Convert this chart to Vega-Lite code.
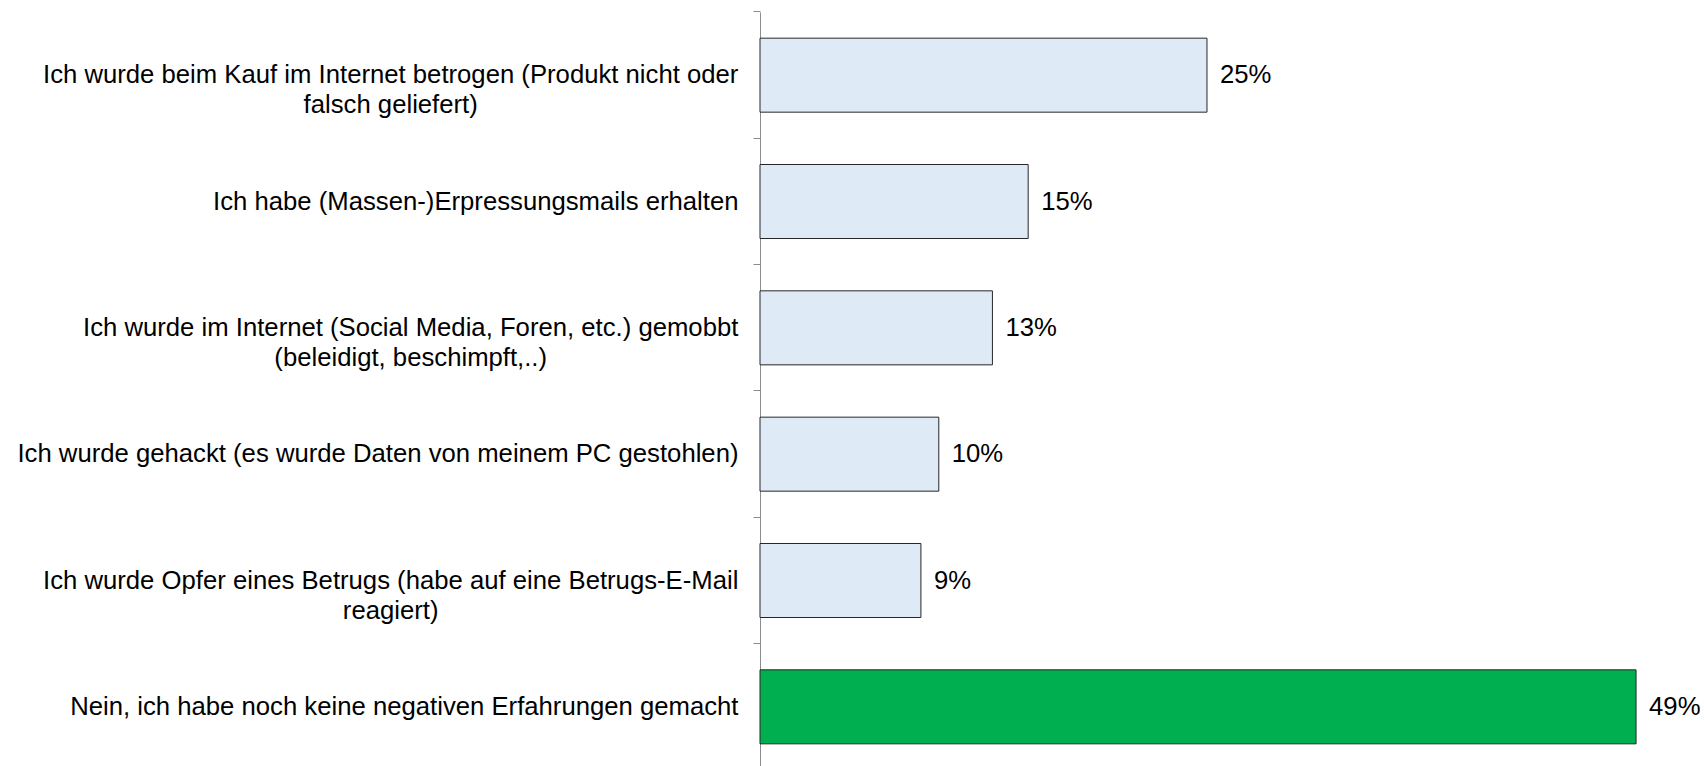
{
  "$schema": "https://vega.github.io/schema/vega-lite/v6.json",
  "autosize": {"type": "none"},
  "padding": {"left": 760, "top": 12, "right": 0, "bottom": 0},
  "width": 944,
  "height": 758,
  "background": "white",
  "config": {"view": {"stroke": null}, "font": "Liberation Sans"},
  "data": {
    "values": [
      {"category": "Ich wurde beim Kauf im Internet betrogen (Produkt nicht oder\nfalsch geliefert)", "share": 0.25},
      {"category": "Ich habe (Massen-)Erpressungsmails erhalten", "share": 0.15},
      {"category": "Ich wurde im Internet (Social Media, Foren, etc.) gemobbt\n(beleidigt, beschimpft,..)", "share": 0.13},
      {"category": "Ich wurde gehackt (es wurde Daten von meinem PC gestohlen)", "share": 0.10},
      {"category": "Ich wurde Opfer eines Betrugs (habe auf eine Betrugs-E-Mail\nreagiert)", "share": 0.09},
      {"category": "Nein, ich habe noch keine negativen Erfahrungen gemacht", "share": 0.49}
    ]
  },
  "encoding": {
    "y": {
      "field": "category",
      "type": "nominal",
      "sort": null,
      "title": null,
      "scale": {"paddingInner": 0.4142, "paddingOuter": 0.2071},
      "axis": {
        "labelExpr": "split(datum.value, '\\n')",
        "labelFont": "Liberation Sans",
        "labelFontSize": 25.7,
        "labelColor": "#000000",
        "labelLineHeight": 30,
        "labelLimit": 0,
        "labelAlign": {"expr": "test(/\\n/, datum.value) ? 'center' : 'right'"},
        "labelPadding": {"expr": "test(/^Ich wurde im/, datum.value) ? 342.8 : (test(/\\n/, datum.value) ? 362.8 : 15)"},
        "bandPosition": -0.3536,
        "tickSize": 7,
        "tickColor": "#8C8C8C",
        "domainColor": "#8C8C8C",
        "tickWidth": 1,
        "domainWidth": 1
      }
    },
    "x": {
      "field": "share",
      "type": "quantitative",
      "scale": {"domain": [0, 0.528], "nice": false},
      "axis": null
    }
  },
  "layer": [
    {
      "mark": {"type": "bar", "stroke": "#262626", "strokeWidth": 1},
      "encoding": {
        "fill": {
          "condition": {"test": "test(/^Nein/, datum.category)", "value": "#00B050"},
          "value": "#DEEAF6"
        }
      }
    },
    {
      "mark": {"type": "text", "align": "left", "baseline": "middle", "dx": 13, "font": "Liberation Sans", "fontSize": 25.7, "color": "#000000"},
      "encoding": {
        "text": {"field": "share", "type": "quantitative", "format": ".0%"}
      }
    }
  ]
}
